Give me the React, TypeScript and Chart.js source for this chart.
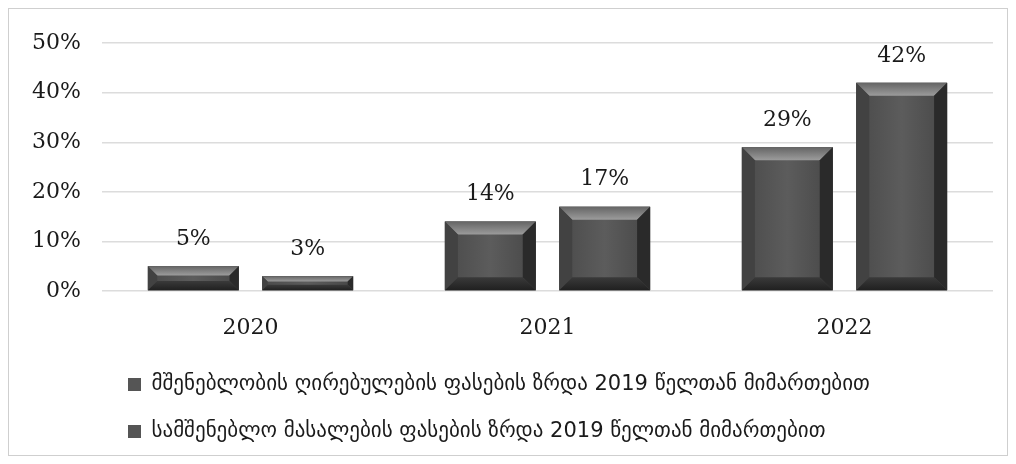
import React, { useEffect, useRef } from "react";
import { Chart, registerables } from "chart.js";

Chart.register(...registerables);

const categories = ["2020", "2021", "2022"];
const seriesNames = [
  "მშენებლობის ღირებულების ფასების ზრდა 2019 წელთან მიმართებით",
  "სამშენებლო მასალების ფასების ზრდა 2019 წელთან მიმართებით",
];
const costGrowth = [5, 14, 29];
const materialGrowth = [3, 17, 42];
const yTicks = [0, 10, 20, 30, 40, 50];

const FACE = "#555555";

const bevelPlugin = {
  id: "bevel",
  afterDatasetsDraw(chart: any) {
    const ctx = chart.ctx;
    chart.data.datasets.forEach((ds: any, di: number) => {
      const meta = chart.getDatasetMeta(di);
      meta.data.forEach((bar: any, i: number) => {
        const { x, y, base, width } = bar.getProps(["x", "y", "base", "width"], true);
        const l = x - width / 2;
        const r = x + width / 2;
        const t = Math.min(y, base);
        const b = Math.max(y, base);
        const h = b - t;
        const s = Math.min(13, h / 2.6, width / 4);
        ctx.save();
        const fg = ctx.createLinearGradient(l, 0, r, 0);
        fg.addColorStop(0, "#4a4a4a");
        fg.addColorStop(0.5, "#5c5c5c");
        fg.addColorStop(1, "#474747");
        ctx.fillStyle = fg;
        ctx.fillRect(l, t, width, h);
        const tg = ctx.createLinearGradient(0, t, 0, t + s);
        tg.addColorStop(0, "#656565");
        tg.addColorStop(1, "#9c9c9c");
        ctx.fillStyle = tg;
        ctx.beginPath();
        ctx.moveTo(l, t);
        ctx.lineTo(r, t);
        ctx.lineTo(r - s, t + s);
        ctx.lineTo(l + s, t + s);
        ctx.closePath();
        ctx.fill();
        ctx.fillStyle = "#424242";
        ctx.beginPath();
        ctx.moveTo(l, t);
        ctx.lineTo(l + s, t + s);
        ctx.lineTo(l + s, b - s);
        ctx.lineTo(l, b);
        ctx.closePath();
        ctx.fill();
        ctx.fillStyle = "#2a2a2a";
        ctx.beginPath();
        ctx.moveTo(r, t);
        ctx.lineTo(r - s, t + s);
        ctx.lineTo(r - s, b - s);
        ctx.lineTo(r, b);
        ctx.closePath();
        ctx.fill();
        const bg = ctx.createLinearGradient(0, b - s, 0, b);
        bg.addColorStop(0, "#3a3a3a");
        bg.addColorStop(1, "#202020");
        ctx.fillStyle = bg;
        ctx.beginPath();
        ctx.moveTo(l, b);
        ctx.lineTo(r, b);
        ctx.lineTo(r - s, b - s);
        ctx.lineTo(l + s, b - s);
        ctx.closePath();
        ctx.fill();
        ctx.fillStyle = "#1a1a1a";
        ctx.font = "22px 'DejaVu Serif', serif";
        ctx.textAlign = "center";
        ctx.textBaseline = "bottom";
        ctx.fillText(ds.data[i] + "%", x, t - 16);
        ctx.restore();
      });
    });
  },
};

export default function App() {
  const ref = useRef<HTMLCanvasElement | null>(null);
  useEffect(() => {
    if (!ref.current) return;
    const chart = new Chart(ref.current, {
      type: "bar",
      data: {
        labels: categories,
        datasets: [
          {
            label: seriesNames[0],
            data: costGrowth,
            backgroundColor: FACE,
            categoryPercentage: 0.77,
            barPercentage: 0.795,
          },
          {
            label: seriesNames[1],
            data: materialGrowth,
            backgroundColor: FACE,
            categoryPercentage: 0.77,
            barPercentage: 0.795,
          },
        ],
      },
      options: {
        animation: false,
        responsive: false,
        layout: { padding: { left: 0, right: 14, top: 33, bottom: 3 } },
        plugins: {
          legend: {
            position: "bottom",
            align: "start",
            fullSize: false,
            labels: {
              boxWidth: 13,
              boxHeight: 13,
              padding: 26,
              color: "#1a1a1a",
              font: { family: "'DejaVu Sans', sans-serif", size: 21 },
            },
          },
          tooltip: { enabled: false },
        },
        scales: {
          x: {
            grid: { display: false, drawTicks: false },
            border: { display: false },
            ticks: {
              color: "#1a1a1a",
              padding: 24,
              font: { family: "'DejaVu Serif', serif", size: 22 },
            },
            afterFit(scale: any) {
              scale.height = 57;
            },
          },
          y: {
            min: 0,
            max: 50,
            afterBuildTicks(scale: any) {
              scale.ticks = yTicks.map((v) => ({ value: v }));
            },
            grid: { color: "#dcdcdc", drawTicks: false, lineWidth: 1.5 },
            border: { display: false },
            ticks: {
              color: "#1a1a1a",
              padding: 21,
              font: { family: "'DejaVu Serif', serif", size: 22 },
              callback: (v: any) => v + "%",
            },
            afterFit(scale: any) {
              scale.width = 93;
            },
          },
        },
      },
      plugins: [bevelPlugin],
    });
    return () => chart.destroy();
  }, []);
  return (
    <div
      style={{
        width: 1000,
        height: 448,
        boxSizing: "border-box",
        border: "1px solid #cfcfcf",
        background: "#fff",
      }}
    >
      <canvas ref={ref} width={998} height={446} style={{ display: "block" }} />
    </div>
  );
}
